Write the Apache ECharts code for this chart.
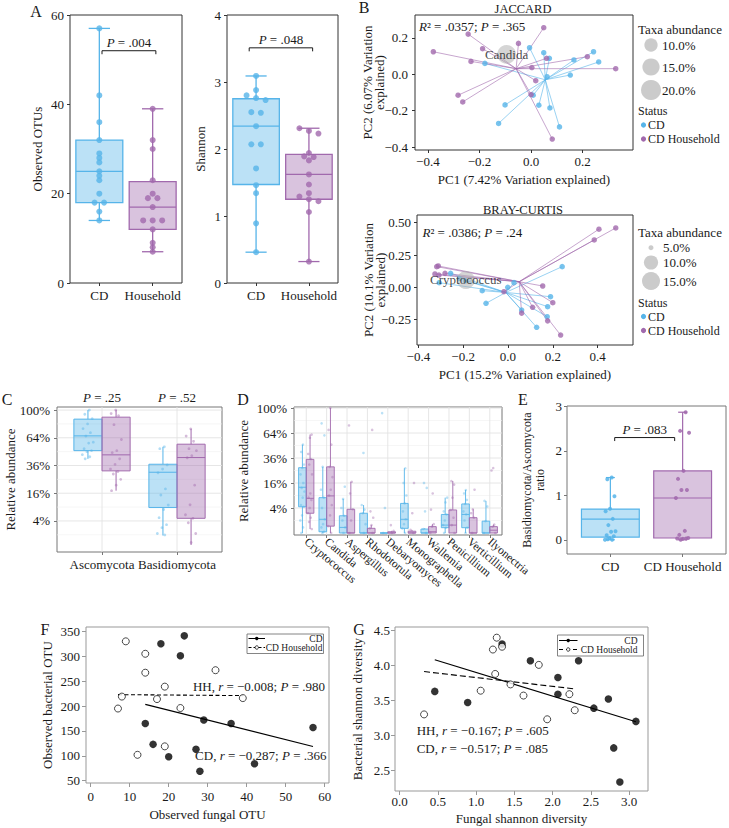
<!DOCTYPE html>
<html>
<head>
<meta charset="utf-8">
<title>Fungal microbiome figure</title>
<script src="https://cdn.jsdelivr.net/npm/echarts@6/dist/echarts.min.js"></script>
<style>
html,body{margin:0;padding:0;background:#ffffff;}
#chart{width:729px;height:828px;}
</style>
</head>
<body>
<div id="chart"></div>
<script>
// ======================= DATA =======================
// Panel A - alpha diversity
const groupLabels = ['CD', 'Household'];
const otuCD = [57, 42, 36, 32, 29, 28, 27, 25, 24, 23, 20, 18, 18, 16, 14];
const otuHH = [39, 32, 30, 23, 20, 19, 19, 17, 14, 14, 14, 12, 9, 8, 7];
const otuBoxCD = [14, 18, 25, 32, 57];          // min, q1, median, q3, max
const otuBoxHH = [7, 12, 17, 22.7, 39];
const otuTicks = [0, 20, 40, 60];
const otuSig = [1.05, 2.06, 52, '.004'];
const shannonCD = [3.09, 2.88, 2.80, 2.76, 2.73, 2.55, 2.54, 2.34, 2.07, 2.07, 1.71, 1.46, 1.34, 0.89, 0.46];
const shannonHH = [2.31, 2.27, 2.23, 1.94, 1.89, 1.88, 1.83, 1.62, 1.47, 1.34, 1.29, 1.25, 1.22, 1.06, 0.32];
const shannonBoxCD = [0.46, 1.47, 2.34, 2.75, 3.09];
const shannonBoxHH = [0.32, 1.25, 1.62, 1.92, 2.31];
const shannonTicks = [0, 1, 2, 3, 4];
const shannonSig = [0.87, 2.07, 3.51, '.048'];

// Panel B - PCoA (Jaccard)
const jaccardCD = [[-0.179,0.060],[-0.006,0.146],[0.049,0.119],[0.071,0.088],[0.062,-0.013],[0.166,0.079],[0.242,0.124],[0.262,0.068],[0.152,-0.004],[0.008,-0.115],[-0.101,-0.168],[0.030,-0.170],[0.073,-0.185],[-0.126,-0.270],[0.110,-0.289]];
const jaccardHH = [[-0.379,0.124],[-0.244,0.221],[-0.188,0.141],[-0.233,0.071],[-0.049,0.170],[0.049,0.256],[0.060,0.088],[0.003,0.037],[0.018,-0.035],[0.000,-0.111],[0.218,0.097],[0.328,0.031],[-0.283,-0.115],[-0.265,-0.152],[0.082,-0.356]];
const jaccardCentroidCD = [0.055, -0.030];
const jaccardCentroidHH = [-0.058, 0.031];
const jaccardTaxon = ['Candida', -0.095, 0.110, 17.5];
const jaccardSizeLegend = [10, 15, 20];
const jaccardXTicks = [-0.4, -0.2, 0, 0.2];
const jaccardYTicks = [-0.4, -0.2, 0, 0.2];
const jaccardStats = ['.0357', '.365'];
// Panel B - PCoA (Bray-Curtis)
const brayCD = [[-0.256,0.108],[-0.307,0.036],[-0.217,0.070],[-0.190,0.050],[-0.115,-0.026],[-0.098,-0.124],[-0.001,0.000],[0.027,0.036],[0.242,0.160],[0.190,-0.073],[0.177,-0.150],[0.061,-0.176],[0.175,-0.228],[0.128,-0.310]];
const brayHH = [[0.406,0.450],[0.481,0.460],[0.385,0.367],[-0.311,0.165],[-0.318,0.160],[-0.326,0.103],[-0.308,0.095],[-0.281,0.108],[0.155,0.010],[-0.018,-0.034],[0.200,-0.119],[0.110,-0.155],[0.061,-0.200],[0.177,-0.260],[0.235,-0.370]];
const brayCentroidCD = [-0.010, -0.040];
const brayCentroidHH = [0.050, 0.043];
const brayTaxon = ['Cryptococcus', -0.188, 0.057, 15];
const braySizeLegend = [5, 10, 15];
const brayXTicks = [-0.4, -0.2, 0, 0.2, 0.4];
const brayYTicks = [-0.25, 0, 0.25, 0.5];
const brayStats = ['.0386', '.24'];

// Panel C - phyla (relative abundance, fractions)
const phyla = ['Ascomycota', 'Basidiomycota'];
const pctTicks = [0.04, 0.16, 0.36, 0.64, 1.0];
const phylumBoxCD = [[0.42, 0.50, 0.662, 0.873, 1.0], [0.009, 0.088, 0.304, 0.371, 0.54]];
const phylumBoxHH = [[0.175, 0.315, 0.458, 0.90, 1.0], [0.0007, 0.048, 0.432, 0.568, 0.747]];
const phylumPtsCD = [
  [1.0, 0.94, 0.88, 0.81, 0.75, 0.70, 0.66, 0.59, 0.58, 0.52, 0.50, 0.49, 0.46, 0.44, 0.42],
  [0.54, 0.52, 0.365, 0.33, 0.30, 0.186, 0.15, 0.099, 0.08, 0.05, 0.03, 0.023, 0.012, 0.0098]
];
const phylumPtsHH = [
  [1.0, 0.95, 0.92, 0.80, 0.62, 0.50, 0.48, 0.42, 0.37, 0.33, 0.31, 0.29, 0.25, 0.21, 0.175],
  [0.747, 0.66, 0.60, 0.52, 0.50, 0.45, 0.43, 0.21, 0.10, 0.06, 0.048, 0.035, 0.012, 0.002]
];
const phylumP = ['.25', '.52'];

// Panel D - genera
const genera = ['Cryptococcus','Candida','Aspergillus','Rhodotorula','Debaryomyces','Monographella','Wallemia','Penicillium','Verticillium','Ilyonectria'];
const genusBoxCD = [
  [0, 0.044, 0.134, 0.273, 0.50], [0, 0.0001, 0.012, 0.08, 0.28], [0, 0, 0.002, 0.019, 0.074],
  [0, 0, 0, 0.025, 0.05], [0, 0, 0, 0, 0], [0, 0.0014, 0.012, 0.056, 0.268],
  [0, 0, 0, 0.001, 0.0015], [0, 0.0018, 0.004, 0.022, 0.08], [0, 0.0018, 0.022, 0.054, 0.118],
  [0, 0, 0, 0.009, 0.066]
];
const genusBoxHH = [
  [0.001, 0.025, 0.077, 0.347, 0.62], [0, 0.003, 0.088, 0.28, 1.0], [0, 0, 0, 0.036, 0.168],
  [0, 0, 0, 0.0014, 0.004], [0, 0, 0, 0.0001, 0.0003], [0, 0, 0, 0.0002, 0.0006],
  [0, 0, 0.0001, 0.0026, 0.005], [0, 0, 0.004, 0.034, 0.173], [0, 0, 0, 0.015, 0.036],
  [0, 0, 0.0005, 0.0026, 0.0045]
];
const genusPtsCD = [
  [0.50, 0.42, 0.30, 0.27, 0.22, 0.16, 0.13, 0.11, 0.08, 0.05, 0.044, 0.02, 0.01, 0.002, 0],
  [0.77, 0.61, 0.28, 0.12, 0.08, 0.04, 0.012, 0.005, 0.002, 0.0001, 0],
  [0.137, 0.074, 0.04, 0.019, 0.01, 0.002, 0],
  [0.41, 0.05, 0.035, 0.025, 0.005, 0],
  [0.92, 0.04, 0],
  [0.268, 0.16, 0.09, 0.056, 0.03, 0.012, 0.005, 0.0014, 0],
  [0.16, 0.13, 0.03, 0.001, 0],
  [0.08, 0.06, 0.03, 0.022, 0.01, 0.004, 0.0018, 0],
  [0.118, 0.10, 0.07, 0.054, 0.03, 0.022, 0.01, 0.0018, 0],
  [0.066, 0.045, 0.009, 0]
];
const genusPtsHH = [
  [0.62, 0.58, 0.40, 0.35, 0.30, 0.22, 0.10, 0.08, 0.07, 0.04, 0.025, 0.015, 0.008, 0.001],
  [1.0, 0.68, 0.50, 0.28, 0.20, 0.12, 0.09, 0.05, 0.02, 0.003, 0],
  [0.74, 0.168, 0.10, 0.036, 0.01, 0],
  [0.68, 0.03, 0.015, 0.004, 0.0014, 0],
  [0.004, 0.0003, 0],
  [0.16, 0.025, 0.0006, 0],
  [0.10, 0.035, 0.005, 0.0026, 0],
  [0.173, 0.15, 0.08, 0.034, 0.015, 0.004, 0],
  [0.12, 0.036, 0.025, 0.015, 0],
  [0.27, 0.25, 0.0045, 0.0026, 0]
];

// Panel E - Basidiomycota/Ascomycota ratio
const ratioGroups = ['CD', 'CD Household'];
const ratioCD = [1.40, 1.36, 0.98, 0.70, 0.64, 0.47, 0.33, 0.19, 0.18, 0.10, 0.08, 0.04, 0.00, 0.00, 0.01];
const ratioHH = [2.87, 2.45, 2.41, 1.55, 1.37, 1.12, 1.12, 0.94, 0.20, 0.11, 0.04, 0.02, 0.03, 0.03, 0.00];
const ratioBoxCD = [0, 0.06, 0.466, 0.69, 1.40];
const ratioBoxHH = [0, 0.04, 0.94, 1.55, 2.87];
const ratioTicks = [0, 1, 2, 3];
const ratioSig = [1.06, 1.89, 2.30, '.083'];

// Panel F - fungal vs bacterial OTUs
const fungalOtuCD = [18, 24, 23, 14, 29, 36, 57, 16, 20, 27, 28, 42];
const bactOtuCD   = [325, 341, 301, 165, 172, 165, 157, 123, 98, 113, 69, 84];
const fungalOtuHH = [9, 14, 14, 32, 19, 8, 17, 39, 7, 23, 19, 12];
const bactOtuHH   = [330, 305, 267, 272, 239, 219, 214, 216, 195, 196, 119, 102];
const otuFitCD = [[14, 203.4], [57, 118.8]];
const otuFitHH = [[7, 222.9], [39, 221.0]];
const fungalOtuTicks = [0, 10, 20, 30, 40, 50, 60];
const bactOtuTicks = [50, 100, 150, 200, 250, 300, 350];
const otuCorr = [['HH', '\u22120.008', '.980'], ['CD', '\u22120.287', '.366']];

// Panel G - fungal vs bacterial Shannon
const fungalShCD = [1.34, 0.46, 0.89, 1.71, 2.07, 2.07, 2.34, 2.54, 2.73, 3.09, 2.80, 2.88];
const bactShCD   = [4.31, 3.63, 3.47, 4.07, 3.83, 3.59, 4.07, 3.39, 3.52, 3.20, 2.82, 2.33];
const fungalShHH = [0.32, 1.27, 1.22, 1.34, 1.25, 1.06, 1.45, 1.62, 1.82, 1.93, 2.22, 2.29];
const bactShHH   = [3.30, 4.40, 4.23, 4.27, 3.88, 3.64, 3.73, 3.57, 4.01, 3.23, 3.59, 3.36];
const shFitCD = [[0.46, 4.083], [3.09, 3.195]];
const shFitHH = [[0.32, 3.914], [2.29, 3.666]];
const fungalShTicks = [0, 0.5, 1, 1.5, 2, 2.5, 3];
const bactShTicks = [2.5, 3, 3.5, 4, 4.5];
const shCorr = [['HH', '\u22120.167', '.605'], ['CD', '\u22120.517', '.085']];

// ======================= STYLE & HELPERS =======================
const FONT = '"Liberation Serif", "Times New Roman", serif';
const INK = '#1a1a1a';
const BLUE = '#56B4E9', BLUE_FILL = 'rgba(86,180,233,0.40)';
const PURP = '#A169AD', PURP_FILL = 'rgba(161,105,173,0.40)';
const BUBBLE = 'rgba(175,175,175,0.65)';
const RICH = {i: {fontStyle: 'italic', fontFamily: FONT, fontSize: 13, fill: INK, color: INK}};
const sq = Math.sqrt;
const f1 = v => v.toFixed(1).replace('-', '\u2212');
const f2 = v => v.toFixed(2).replace('-', '\u2212');
const pctFmt = v => Math.round(v * v * 100) + '%';
const jit = (i, w) => ((((i + 1) * 0.6180339887) % 1) - 0.5) * w;
const zip = (a, b) => a.map((v, i) => [v, b[i]]);

const grid = [], xAxis = [], yAxis = [], series = [], graphic = [];

function axisOpt(gi, o, isX, frame) {
  const a = {
    type: 'value', gridIndex: gi, min: o.min, max: o.max,
    position: isX ? 'bottom' : 'left',
    axisLine: {show: false, onZero: false},
    splitLine: {show: false},
    axisTick: {show: true, inside: false, length: o.tickLen || 3, customValues: o.ticks,
      lineStyle: {color: o.tickColor || frame, width: 1}},
    axisLabel: {show: true, customValues: o.ticks, formatter: o.fmt, margin: o.margin, color: INK,
      fontFamily: FONT, fontSize: o.fs || 13, rotate: o.rotate || 0},
    nameMoveOverlap: false
  };
  if (o.name) {
    Object.assign(a, {name: o.name, nameLocation: 'middle', nameGap: o.gap,
      nameTextStyle: {fontFamily: FONT, fontSize: o.nfs || 13, color: INK, lineHeight: o.nlh || 14}});
  }
  return a;
}
function panel(rect, frame, xo, yo) {
  const gi = grid.length;
  grid.push({left: rect[0], top: rect[1], width: rect[2], height: rect[3], show: true,
    borderColor: frame, borderWidth: 1, backgroundColor: 'transparent',
    containLabel: false, outerBoundsMode: 'none'});
  xAxis.push(axisOpt(gi, xo, true, frame));
  yAxis.push(axisOpt(gi, yo, false, frame));
  return gi;
}
function boxSeries(gi, items, o) {
  return {
    type: 'custom', xAxisIndex: gi, yAxisIndex: gi, z: 2, silent: true,
    data: items, encode: {x: 0, y: [1, 2, 3, 4, 5]},
    renderItem: function (params, api) {
      const x = api.value(0);
      const v = [1, 2, 3, 4, 5].map(k => api.value(k));
      const tl = api.coord([x - o.half, v[3]]);
      const br = api.coord([x + o.half, v[1]]);
      const cx = api.coord([x, v[2]])[0];
      const yMin = api.coord([x, v[0]])[1], yMax = api.coord([x, v[4]])[1], yMed = api.coord([x, v[2]])[1];
      const ls = {stroke: o.stroke, lineWidth: o.lw, fill: 'none'};
      const ch = [
        {type: 'line', shape: {x1: cx, y1: tl[1], x2: cx, y2: yMax}, style: ls},
        {type: 'line', shape: {x1: cx, y1: br[1], x2: cx, y2: yMin}, style: ls},
        {type: 'rect', shape: {x: tl[0], y: tl[1], width: br[0] - tl[0], height: br[1] - tl[1]},
          style: {fill: o.fill, stroke: o.stroke, lineWidth: o.lw}},
        {type: 'line', shape: {x1: tl[0], y1: yMed, x2: br[0], y2: yMed}, style: ls}
      ];
      if (o.cap) {
        const c0 = api.coord([x - o.cap, v[0]])[0], c1 = api.coord([x + o.cap, v[0]])[0];
        ch.push({type: 'line', shape: {x1: c0, y1: yMax, x2: c1, y2: yMax}, style: ls});
        ch.push({type: 'line', shape: {x1: c0, y1: yMin, x2: c1, y2: yMin}, style: ls});
      }
      return {type: 'group', children: ch};
    }
  };
}
function dots(gi, data, color, size, extra) {
  return Object.assign({type: 'scatter', xAxisIndex: gi, yAxisIndex: gi, z: 3, silent: true,
    symbol: 'circle', symbolSize: size, data: data, itemStyle: {color: color}}, extra || {});
}
function swarm(vals, pxPerUnit, tolPx, step) {
  const order = vals.map((v, i) => i).sort((a, b) => vals[b] - vals[a]);
  const off = vals.map(() => 0);
  let grp = [];
  const flush = () => grp.forEach((id, k) => { off[id] = (k - (grp.length - 1) / 2) * step; });
  order.forEach((id, k) => {
    if (k > 0 && (vals[order[k - 1]] - vals[id]) * pxPerUnit >= tolPx) { flush(); grp = []; }
    grp.push(id);
  });
  flush();
  return off;
}
function textStyle(x, y, text, align, fs, lh) {
  const s = {text: text, x: x, y: y, fill: INK, fontFamily: FONT, fontSize: fs || 13,
    align: align, verticalAlign: 'middle', textAlign: align, textVerticalAlign: 'middle', rich: RICH};
  if (lh) s.lineHeight = lh;
  return s;
}
function sigSeries(gi, sig) {
  return {type: 'custom', xAxisIndex: gi, yAxisIndex: gi, z: 5, silent: true,
    data: [[sig[0], sig[2], sig[1]]],
    renderItem: function (params, api) {
      const a = api.coord([api.value(0), api.value(1)]);
      const b = api.coord([api.value(2), api.value(1)]);
      return {type: 'group', children: [
        {type: 'polyline', shape: {points: [[a[0], a[1] + 3.5], [a[0], a[1]], [b[0], b[1]], [b[0], b[1] + 3.5]]},
          style: {stroke: INK, lineWidth: 1, fill: 'none'}},
        {type: 'text', style: textStyle((a[0] + b[0]) / 2, a[1] - 8, '{i|P} = ' + sig[3], 'center')}
      ]};
    }};
}
function topTextSeries(gi, xs, yTop, texts, dy) {
  return {type: 'custom', xAxisIndex: gi, yAxisIndex: gi, z: 5, silent: true,
    data: xs.map(x => [x, yTop]),
    renderItem: function (params, api) {
      const p = api.coord([api.value(0), api.value(1)]);
      return {type: 'text', style: textStyle(p[0], p[1] - dy, '{i|P} = ' + texts[params.dataIndex], 'center')};
    }};
}
function gridLineSeries(gi, hMajor, hMinor, vMajor, refX, refY) {
  const data = [];
  hMajor.forEach(v => data.push([refX, v, 0]));
  hMinor.forEach(v => data.push([refX, v, 1]));
  vMajor.forEach(v => data.push([v, refY, 2]));
  return {type: 'custom', xAxisIndex: gi, yAxisIndex: gi, z: 1, silent: true, data: data,
    renderItem: function (params, api) {
      const cs = params.coordSys;
      const kind = api.value(2);
      const p = api.coord([api.value(0), api.value(1)]);
      const st = {stroke: kind === 1 ? '#f0f0f0' : '#e3e3e3', lineWidth: kind === 1 ? 0.6 : 0.9};
      if (kind === 2) return {type: 'line', shape: {x1: p[0], y1: cs.y, x2: p[0], y2: cs.y + cs.height}, style: st};
      return {type: 'line', shape: {x1: cs.x, y1: p[1], x2: cs.x + cs.width, y2: p[1]}, style: st};
    }};
}
function spiderSeries(gi, pts, cen, color) {
  return {type: 'custom', xAxisIndex: gi, yAxisIndex: gi, z: 1, silent: true, data: pts,
    renderItem: function (params, api) {
      const p = api.coord([api.value(0), api.value(1)]);
      const c = api.coord(cen);
      return {type: 'line', shape: {x1: p[0], y1: p[1], x2: c[0], y2: c[1]},
        style: {stroke: color, lineWidth: 0.8, opacity: 0.75}};
    }};
}
function bubbleSeries(gi, taxon, sizeFn) {
  return {type: 'scatter', xAxisIndex: gi, yAxisIndex: gi, z: 4, silent: true,
    data: [[taxon[1], taxon[2], taxon[3]]],
    symbolSize: v => sizeFn(v[2]),
    itemStyle: {color: BUBBLE},
    label: {show: true, position: 'inside', formatter: taxon[0], fontFamily: FONT, fontSize: 13, color: INK}};
}
function gtext(x, y, text, o) {
  o = o || {};
  return {type: 'text', x: x, y: y, silent: true, z: 10,
    style: textStyle(0, 0, text, o.align || 'left', o.fs, o.lh)};
}
function bLegend(x0, yTitle, sizeVals, sizeYs, sizeFn, labelDx, yStatus, yCD, yHH) {
  const L = {lh: 12};
  const S = {lh: 12, fs: 12};
  graphic.push(gtext(x0, yTitle, 'Taxa abundance', L));
  sizeVals.forEach((v, k) => {
    graphic.push({type: 'circle', silent: true, z: 10, shape: {cx: x0 + 13, cy: sizeYs[k], r: sizeFn(v) / 2}, style: {fill: BUBBLE}});
    graphic.push(gtext(x0 + labelDx, sizeYs[k], v.toFixed(1) + '%', L));
  });
  graphic.push(gtext(x0, yStatus, 'Status', S));
  graphic.push({type: 'circle', silent: true, z: 10, shape: {cx: x0 + 5.5, cy: yCD, r: 2.6}, style: {fill: BLUE}});
  graphic.push(gtext(x0 + 10, yCD, 'CD', S));
  graphic.push({type: 'circle', silent: true, z: 10, shape: {cx: x0 + 5.5, cy: yHH, r: 2.6}, style: {fill: PURP}});
  graphic.push(gtext(x0 + 10, yHH, 'CD Household', S));
}
function fgLegend(x, y, w, h, lx0, lx1, tRight, y1, y2, dash) {
  graphic.push({type: 'rect', silent: true, z: 9, shape: {x: x, y: y, width: w, height: h}, style: {fill: '#fff', stroke: '#666', lineWidth: 0.8}});
  graphic.push({type: 'line', silent: true, z: 10, shape: {x1: lx0, y1: y1, x2: lx1, y2: y1}, style: {stroke: '#000', lineWidth: 1}});
  graphic.push({type: 'circle', silent: true, z: 11, shape: {cx: (lx0 + lx1) / 2, cy: y1, r: 1.7}, style: {fill: '#000'}});
  graphic.push(gtext(tRight, y1, 'CD', {fs: 9.5, align: 'right', lh: 8.5}));
  graphic.push({type: 'line', silent: true, z: 10, shape: {x1: lx0, y1: y2, x2: lx1, y2: y2}, style: {stroke: '#000', lineWidth: 1, lineDash: dash}});
  graphic.push({type: 'circle', silent: true, z: 11, shape: {cx: (lx0 + lx1) / 2, cy: y2, r: 1.7}, style: {fill: '#fff', stroke: '#000', lineWidth: 0.8}});
  graphic.push(gtext(tRight, y2, 'CD Household', {fs: 9.5, align: 'right', lh: 8.5}));
}
function corrText(c) { return c[0] + ', {i|r} = ' + c[1] + '; {i|P} = ' + c[2]; }

// ======================= PANEL A =======================
const gA1 = panel([70, 15, 112, 268], '#333',
  {min: 0.45, max: 2.55, ticks: [1, 2], fmt: v => groupLabels[Math.round(v) - 1], margin: 6},
  {min: 0, max: 60, ticks: otuTicks, fmt: v => String(v), margin: 6, name: 'Observed OTUs', gap: 26});
series.push(boxSeries(gA1, [[1].concat(otuBoxCD)], {half: 0.44, cap: 0.2, stroke: BLUE, fill: BLUE_FILL, lw: 1.3}));
series.push(boxSeries(gA1, [[2].concat(otuBoxHH)], {half: 0.44, cap: 0.2, stroke: PURP, fill: PURP_FILL, lw: 1.3}));
const offOtuCD = swarm(otuCD, 268 / 60, 3, 0.178), offOtuHH = swarm(otuHH, 268 / 60, 3, 0.178);
series.push(dots(gA1, otuCD.map((v, i) => [1 + offOtuCD[i], v]), BLUE, 6));
series.push(dots(gA1, otuHH.map((v, i) => [2 + offOtuHH[i], v]), PURP, 6));
series.push(sigSeries(gA1, otuSig));

const gA2 = panel([227, 15, 111, 268], '#333',
  {min: 0.45, max: 2.55, ticks: [1, 2], fmt: v => groupLabels[Math.round(v) - 1], margin: 6},
  {min: 0, max: 4, ticks: shannonTicks, fmt: v => String(v), margin: 6, name: 'Shannon', gap: 20});
series.push(boxSeries(gA2, [[1].concat(shannonBoxCD)], {half: 0.44, cap: 0.2, stroke: BLUE, fill: BLUE_FILL, lw: 1.3}));
series.push(boxSeries(gA2, [[2].concat(shannonBoxHH)], {half: 0.44, cap: 0.2, stroke: PURP, fill: PURP_FILL, lw: 1.3}));
const offShCD = swarm(shannonCD, 67, 3, 0.18), offShHH = swarm(shannonHH, 67, 3, 0.18);
series.push(dots(gA2, shannonCD.map((v, i) => [1 + offShCD[i], v]), BLUE, 6));
series.push(dots(gA2, shannonHH.map((v, i) => [2 + offShHH[i], v]), PURP, 6));
series.push(sigSeries(gA2, shannonSig));

// ======================= PANEL B =======================
const jacSize = a => 7.1 + 12.9 * Math.sqrt(Math.max(0, (a - 7) / 13));
const braySize = a => 5 + 13 * Math.sqrt(Math.max(0, (a - 5) / 10));

const gB1 = panel([415, 15, 218, 135], '#333',
  {min: -0.45, max: 0.395, ticks: jaccardXTicks, fmt: f1, margin: 5, name: 'PC1 (7.42% Variation explained)', gap: 22},
  {min: -0.416, max: 0.326, ticks: jaccardYTicks, fmt: f1, margin: 7, name: 'PC2 (6.07% Variation\nexplained)', gap: 30, nlh: 12});
series.push(spiderSeries(gB1, jaccardCD, jaccardCentroidCD, BLUE));
series.push(spiderSeries(gB1, jaccardHH, jaccardCentroidHH, PURP));
series.push(dots(gB1, jaccardCD, BLUE, 5.5));
series.push(dots(gB1, jaccardHH, PURP, 5.5));
series.push(bubbleSeries(gB1, jaccardTaxon, jacSize));

const gB2 = panel([417, 215, 216, 130], '#333',
  {min: -0.406, max: 0.558, ticks: brayXTicks, fmt: f1, margin: 5, name: 'PC1 (15.2% Variation explained)', gap: 22},
  {min: -0.447, max: 0.56, ticks: brayYTicks, fmt: f2, margin: 6, name: 'PC2 (10.1% Variation\nexplained)', gap: 31, nlh: 12});
series.push(spiderSeries(gB2, brayCD, brayCentroidCD, BLUE));
series.push(spiderSeries(gB2, brayHH, brayCentroidHH, PURP));
series.push(dots(gB2, brayCD, BLUE, 5.5));
series.push(dots(gB2, brayHH, PURP, 5.5));
series.push(bubbleSeries(gB2, brayTaxon, braySize));

bLegend(638, 29, jaccardSizeLegend, [45, 67, 90], jacSize, 24, 111, 125, 139);
bLegend(638, 232, braySizeLegend, [247.7, 262.5, 281], braySize, 25, 302.5, 316.5, 330.5);
graphic.push(gtext(523, 8.5, 'JACCARD', {align: 'center', fs: 12.5}));
graphic.push(gtext(523, 209.5, 'BRAY-CURTIS', {align: 'center', fs: 12.5}));
graphic.push(gtext(419, 26.5, '{i|R}\u00b2 = ' + jaccardStats[0] + '; {i|P} = ' + jaccardStats[1]));
graphic.push(gtext(422.5, 232.3, '{i|R}\u00b2 = ' + brayStats[0] + '; {i|P} = ' + brayStats[1]));

// ======================= PANEL C =======================
const majorSq = pctTicks.map(sq);
const minorSq = majorSq.map(m => m - 0.1);
const DODGE = 0.1875;
const gC = panel([57, 407, 165, 145], '#777',
  {min: 0.4, max: 2.6, ticks: [1, 2], fmt: v => phyla[Math.round(v) - 1], margin: 6},
  {min: -0.024, max: 1.022, ticks: majorSq, fmt: pctFmt, margin: 7, name: 'Relative abundance', gap: 40});
series.push(gridLineSeries(gC, majorSq, minorSq, [1, 2], 1, 0.5));
series.push(boxSeries(gC, phylumBoxCD.map((b, i) => [i + 1 - DODGE].concat(b.map(sq))), {half: DODGE, stroke: BLUE, fill: BLUE_FILL, lw: 1}));
series.push(boxSeries(gC, phylumBoxHH.map((b, i) => [i + 1 + DODGE].concat(b.map(sq))), {half: DODGE, stroke: PURP, fill: PURP_FILL, lw: 1}));
(function () {
  const dc = [], dh = [];
  phylumPtsCD.forEach((arr, i) => arr.forEach((v, k) => dc.push([i + 1 - DODGE + jit(k, 0.16), sq(v)])));
  phylumPtsHH.forEach((arr, i) => arr.forEach((v, k) => dh.push([i + 1 + DODGE + jit(k + 3, 0.16), sq(v)])));
  series.push(dots(gC, dc, BLUE, 2.8, {itemStyle: {color: BLUE, opacity: 0.45}}));
  series.push(dots(gC, dh, PURP, 2.8, {itemStyle: {color: PURP, opacity: 0.45}}));
})();
series.push(topTextSeries(gC, [1, 2], 1.022, phylumP, 10));

// ======================= PANEL D =======================
const gD = panel([294, 407, 208, 128], '#777',
  {min: 0.4, max: 10.6, ticks: genera.map((g, i) => i + 1), fmt: v => genera[Math.round(v) - 1], margin: 5, rotate: -40, fs: 11.5},
  {min: -0.016, max: 1.008, ticks: majorSq, fmt: pctFmt, margin: 7, name: 'Relative abundance', gap: 44});
series.push(gridLineSeries(gD, majorSq, minorSq, genera.map((g, i) => i + 1), 1, 0.5));
series.push(boxSeries(gD, genusBoxCD.map((b, i) => [i + 1 - DODGE].concat(b.map(sq))), {half: DODGE, stroke: BLUE, fill: BLUE_FILL, lw: 0.9}));
series.push(boxSeries(gD, genusBoxHH.map((b, i) => [i + 1 + DODGE].concat(b.map(sq))), {half: DODGE, stroke: PURP, fill: PURP_FILL, lw: 0.9}));
(function () {
  const dc = [], dh = [];
  genusPtsCD.forEach((arr, i) => arr.forEach((v, k) => dc.push([i + 1 - DODGE + jit(k + i, 0.22), sq(v)])));
  genusPtsHH.forEach((arr, i) => arr.forEach((v, k) => dh.push([i + 1 + DODGE + jit(k + i + 2, 0.22), sq(v)])));
  series.push(dots(gD, dc, BLUE, 2.6, {itemStyle: {color: BLUE, opacity: 0.4}}));
  series.push(dots(gD, dh, PURP, 2.6, {itemStyle: {color: PURP, opacity: 0.4}}));
})();

// ======================= PANEL E =======================
const gE = panel([567, 406, 159, 148], '#777',
  {min: 0.4, max: 2.6, ticks: [1, 2], fmt: v => ratioGroups[Math.round(v) - 1], margin: 6},
  {min: -0.32, max: 3.01, ticks: ratioTicks, fmt: v => String(v), margin: 5, name: 'Basidiomycota/Ascomycota\nratio', gap: 21, nfs: 12, nlh: 13});
series.push(boxSeries(gE, [[1].concat(ratioBoxCD)], {half: 0.4, cap: 0.062, stroke: BLUE, fill: BLUE_FILL, lw: 1.2}));
series.push(boxSeries(gE, [[2].concat(ratioBoxHH)], {half: 0.4, cap: 0.062, stroke: PURP, fill: PURP_FILL, lw: 1.2}));
series.push(dots(gE, ratioCD.map((v, i) => [1 + jit(i, 0.16), v]), BLUE, 4, {itemStyle: {color: BLUE, opacity: 0.85}}));
series.push(dots(gE, ratioHH.map((v, i) => [2 + jit(i + 5, 0.2), v]), PURP, 4, {itemStyle: {color: PURP, opacity: 0.85}}));
series.push(sigSeries(gE, ratioSig));

// ======================= PANEL F =======================
const gF = panel([86, 627, 243, 156], '#999',
  {min: -1.2, max: 61.1, ticks: fungalOtuTicks, fmt: v => String(v), margin: 7, name: 'Observed fungal OTU', gap: 24, tickLen: 4},
  {min: 45.4, max: 358.8, ticks: bactOtuTicks, fmt: v => String(v), margin: 6, name: 'Observed bacterial OTU', gap: 32, tickLen: 4});
series.push({type: 'line', xAxisIndex: gF, yAxisIndex: gF, data: otuFitCD, symbol: 'none', silent: true, z: 2,
  lineStyle: {color: '#000', width: 1.2}});
series.push({type: 'line', xAxisIndex: gF, yAxisIndex: gF, data: otuFitHH, symbol: 'none', silent: true, z: 2,
  lineStyle: {color: '#000', width: 1.1, type: [4, 2.5]}});
series.push(dots(gF, zip(fungalOtuCD, bactOtuCD), '#000', 7.5));
series.push(dots(gF, zip(fungalOtuHH, bactOtuHH), '#fff', 7, {itemStyle: {color: '#fff', borderColor: '#000', borderWidth: 0.9}}));
fgLegend(247, 634, 76.5, 19.5, 248.5, 265, 322.5, 638.5, 647.5, [3, 2]);
graphic.push(gtext(325, 686, corrText(otuCorr[0]), {align: 'right'}));
graphic.push(gtext(326.5, 755.5, corrText(otuCorr[1]), {align: 'right'}));

// ======================= PANEL G =======================
const gG = panel([395, 627, 253, 164], '#999',
  {min: -0.06, max: 3.248, ticks: fungalShTicks, fmt: f1, margin: 4, name: 'Fungal shannon diversity', gap: 21, tickLen: 4, nlh: 13},
  {min: 2.202, max: 4.553, ticks: bactShTicks, fmt: f1, margin: 5, name: 'Bacterial shannon diversity', gap: 31, tickLen: 4});
series.push({type: 'line', xAxisIndex: gG, yAxisIndex: gG, data: shFitCD, symbol: 'none', silent: true, z: 2,
  lineStyle: {color: '#000', width: 1.2}});
series.push({type: 'line', xAxisIndex: gG, yAxisIndex: gG, data: shFitHH, symbol: 'none', silent: true, z: 2,
  lineStyle: {color: '#000', width: 1.1, type: [6, 3]}});
series.push(dots(gG, zip(fungalShCD, bactShCD), '#000', 7.5));
series.push(dots(gG, zip(fungalShHH, bactShHH), '#fff', 7, {itemStyle: {color: '#fff', borderColor: '#000', borderWidth: 0.9}}));
fgLegend(557.5, 635, 86, 21, 559, 577.5, 637.5, 640.5, 649.5, [4, 3]);
graphic.push(gtext(416.7, 730, corrText(shCorr[0])));
graphic.push(gtext(416.7, 748.3, corrText(shCorr[1])));

// ======================= PANEL LETTERS =======================
[['A', 36, 11.5], ['B', 364, 7.5], ['C', 7, 399], ['D', 243, 399], ['E', 523, 399], ['F', 45, 629], ['G', 359, 629]]
  .forEach(l => graphic.push(gtext(l[1], l[2], l[0], {align: 'center', fs: 16})));

// ======================= RENDER =======================
const chart = echarts.init(document.getElementById('chart'), null, {renderer: 'svg', width: 729, height: 828});
chart.setOption({
  animation: false,
  backgroundColor: '#ffffff',
  textStyle: {fontFamily: FONT},
  grid: grid, xAxis: xAxis, yAxis: yAxis, series: series,
  graphic: {elements: graphic}
});
</script>
</body>
</html>
